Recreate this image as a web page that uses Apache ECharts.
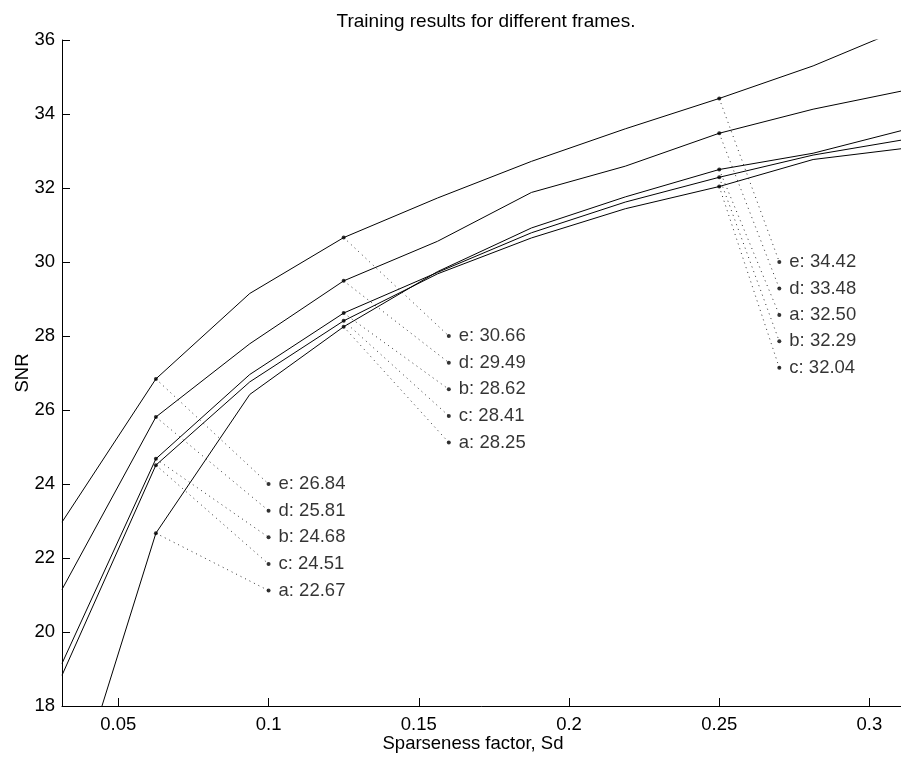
<!DOCTYPE html>
<html>
<head>
<meta charset="utf-8">
<script src="https://cdn.jsdelivr.net/npm/echarts@6/dist/echarts.min.js"></script>
<style>
  html, body { margin: 0; padding: 0; background: #fff; }
  #chart { width: 901px; height: 757px; }
</style>
</head>
<body>
<div id="chart"></div>
<script>
// Sparseness factor values (Sd) at which each frame was trained
const sparseness = [0.03125, 0.0625, 0.09375, 0.125, 0.15625, 0.1875, 0.21875, 0.25, 0.28125, 0.3125];

// SNR per frame
const frameNames = ['a', 'b', 'c', 'd', 'e'];
const snrA = [14.54, 22.67, 26.42, 28.25, 29.74, 30.92, 31.76, 32.50, 32.94, 33.59];
const snrB = [19.15, 24.68, 26.96, 28.62, 29.72, 30.79, 31.62, 32.29, 32.89, 33.32];
const snrC = [18.83, 24.51, 26.76, 28.41, 29.68, 30.65, 31.44, 32.04, 32.77, 33.08];
const snrD = [21.15, 25.81, 27.79, 29.49, 30.56, 31.88, 32.59, 33.48, 34.13, 34.65];
const snrE = [22.97, 26.84, 29.15, 30.66, 31.73, 32.72, 33.60, 34.42, 35.30, 36.36];

// Indices of the Sd values whose readouts are listed beside the curves
const annotatedIdx = [1, 3, 7];

// Axis tick labels
const xTickValues = [0.05, 0.1, 0.15, 0.2, 0.25, 0.3];

// Where each readout column sits (data coordinates)
const readoutLayout = [
  { x: 0.1,  top: 24.0, step: 0.72 },
  { x: 0.16, top: 28.0, step: 0.72 },
  { x: 0.27, top: 30.0, step: 0.715 }
];

const FONT = 'Liberation Sans, Arial, Helvetica, sans-serif';
const FS = 18.5;
const frames = [snrA, snrB, snrC, snrD, snrE];

const series = [];

// curves
frames.forEach((vals, k) => {
  series.push({
    type: 'line',
    name: frameNames[k],
    data: sparseness.map((x, i) => [x, vals[i]]),
    symbol: 'none',
    lineStyle: { color: '#000', width: 1 },
    clip: true,
    silent: true,
    z: 3
  });
});

// readouts: dotted leaders, point markers and text
annotatedIdx.forEach((idx, g) => {
  const lay = readoutLayout[g];
  const order = frames
    .map((vals, k) => ({ k, v: vals[idx] }))
    .sort((p, q) => q.v - p.v);

  order.forEach((item, r) => {
    const ly = lay.top - r * lay.step;
    series.push({
      type: 'line',
      data: [[sparseness[idx], item.v], [lay.x, ly]],
      symbol: 'none',
      lineStyle: { color: '#333', width: 1, type: [1, 4] },
      silent: true,
      z: 2
    });
    series.push({
      type: 'scatter',
      data: [{ value: [lay.x, ly], name: frameNames[item.k] + ': ' + item.v.toFixed(2) }],
      symbol: 'circle',
      symbolSize: 4,
      itemStyle: { color: '#000' },
      label: {
        show: true,
        position: 'right',
        distance: 8,
        formatter: p => p.name,
        color: '#000',
        fontFamily: FONT,
        fontSize: FS
      },
      silent: true,
      z: 4
    });
  });

  series.push({
    type: 'scatter',
    data: frames.map(vals => [sparseness[idx], vals[idx]]),
    symbol: 'circle',
    symbolSize: 4,
    itemStyle: { color: '#000' },
    silent: true,
    z: 5
  });
});

const chart = echarts.init(document.getElementById('chart'), null, { renderer: 'canvas' });
chart.setOption({
  animation: false,
  backgroundColor: '#fff',
  textStyle: { fontFamily: FONT },
  title: {
    text: 'Training results for different frames.',
    left: 481,
    top: 7,
    textAlign: 'center',
    textStyle: { fontFamily: FONT, fontSize: 19, fontWeight: 'normal', color: '#000' }
  },
  grid: {
    left: 62, top: 40, right: -6, bottom: 51,
    containLabel: false,
    outerBoundsMode: 'none'
  },
  xAxis: {
    type: 'value',
    min: sparseness[0],
    max: sparseness[sparseness.length - 1],
    name: 'Sparseness factor, Sd',
    nameLocation: 'middle',
    nameGap: 28,
    nameMoveOverlap: false,
    nameTextStyle: { fontFamily: FONT, fontSize: FS, color: '#000', padding: [0, 23, 0, 0] },
    axisLine: { lineStyle: { color: '#000', width: 1 } },
    axisTick: { inside: true, length: 8, lineStyle: { color: '#000' }, customValues: xTickValues },
    axisLabel: { fontFamily: FONT, fontSize: FS, color: '#000', margin: 9, customValues: xTickValues },
    splitLine: { show: false }
  },
  yAxis: {
    type: 'value',
    min: 18,
    max: 36,
    interval: 2,
    name: 'SNR',
    nameLocation: 'middle',
    nameGap: 30,
    nameMoveOverlap: false,
    nameTextStyle: { fontFamily: FONT, fontSize: FS, color: '#000' },
    axisLine: { show: true, lineStyle: { color: '#000', width: 1 } },
    axisTick: { show: true, inside: true, length: 8, lineStyle: { color: '#000' } },
    axisLabel: { fontFamily: FONT, fontSize: FS, color: '#000', margin: 7 },
    splitLine: { show: false }
  },
  series: series
});
</script>
</body>
</html>
